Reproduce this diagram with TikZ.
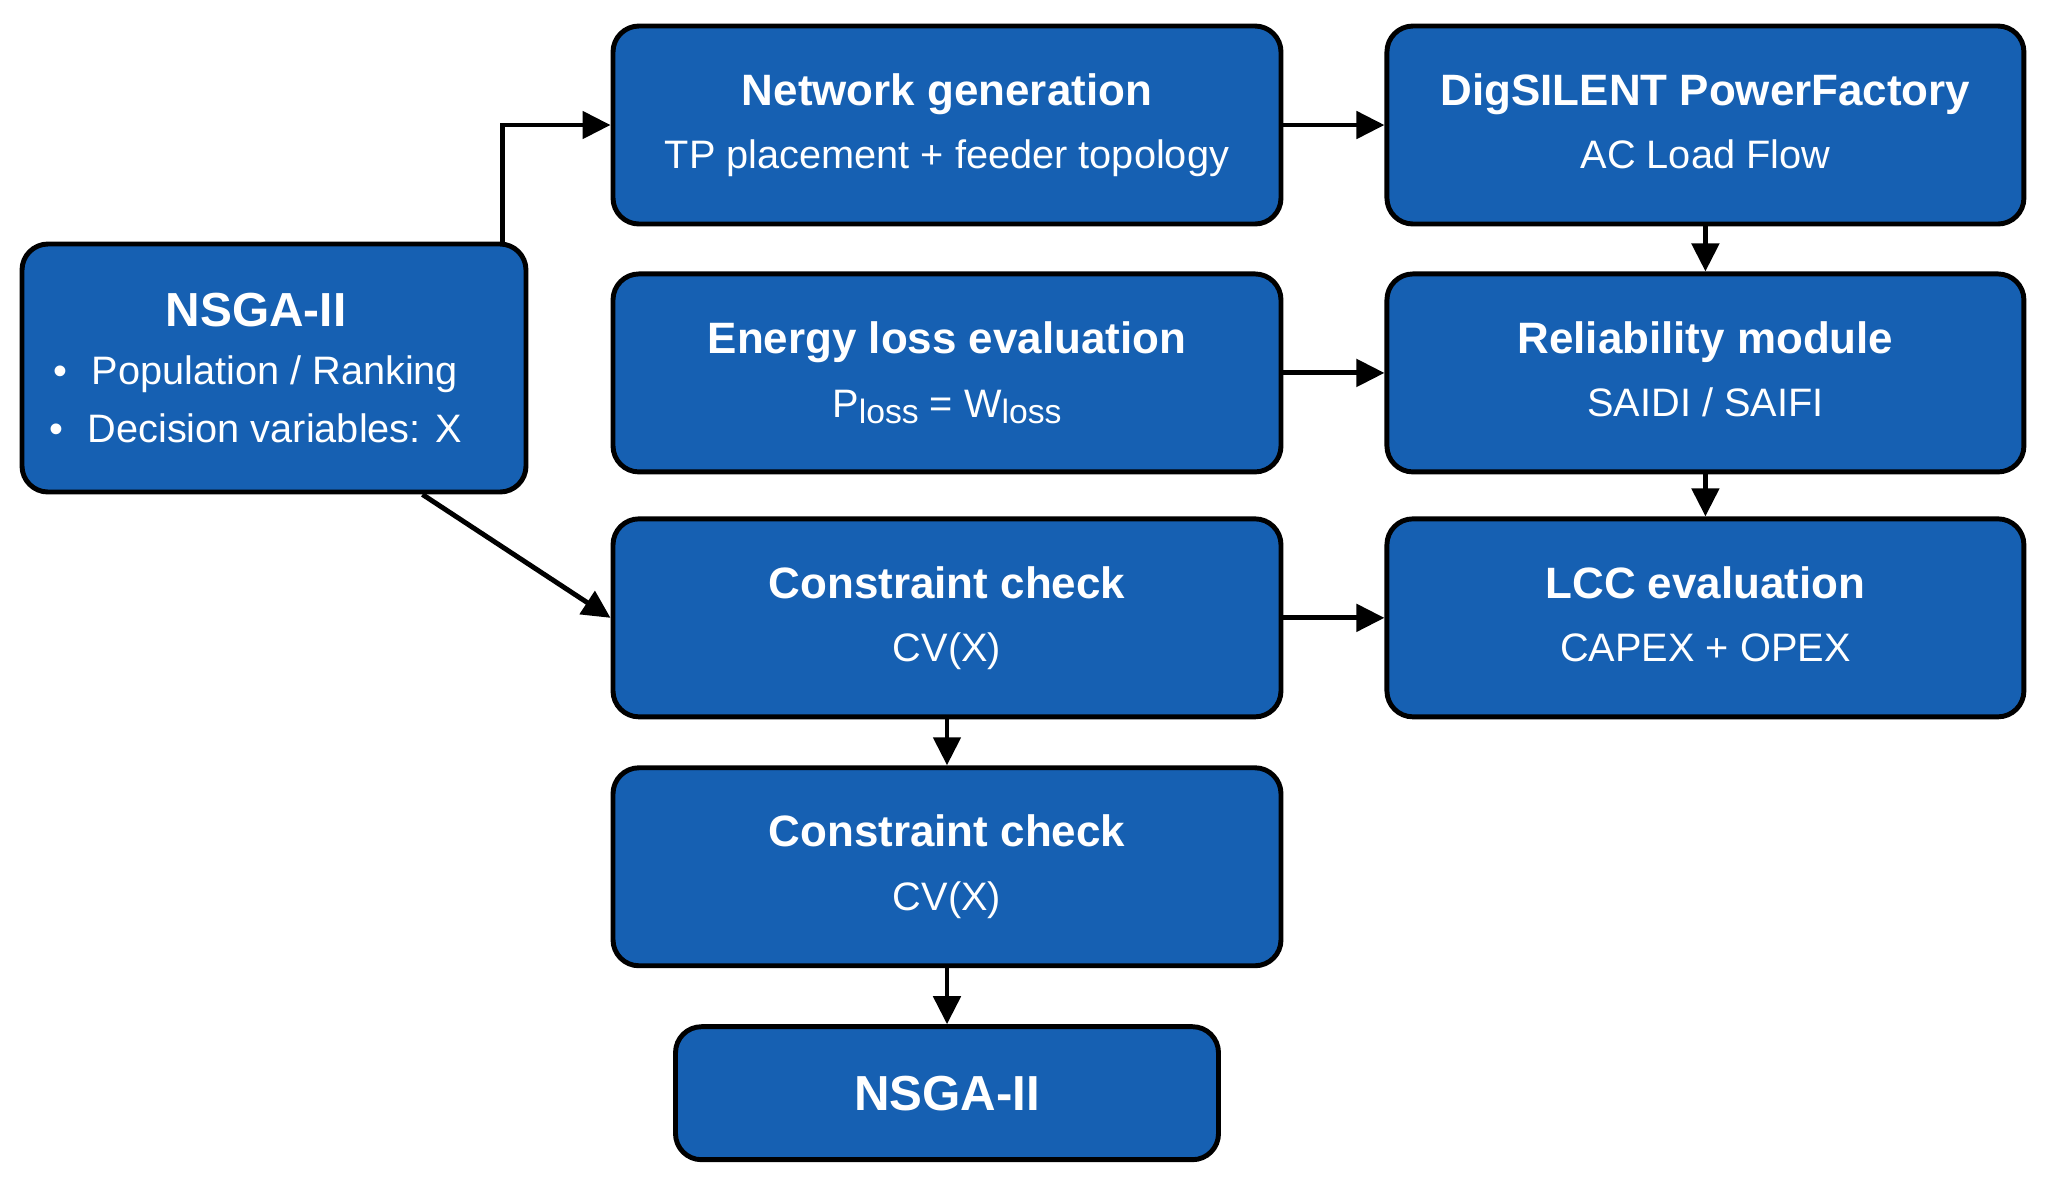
\documentclass[tikz,border=0pt]{standalone}
\usepackage{fontspec}
\setmainfont{Liberation Sans}
\usetikzlibrary{arrows.meta, positioning, calc}
\definecolor{boxblue}{RGB}{22,96,178}
\newcommand{\boxtitle}[1]{{\fontsize{12.5}{18}\selectfont\bfseries #1}}
\newcommand{\lossidx}{\raisebox{-0.3ex}{\fontsize{9.6}{10}\selectfont loss}}

\begin{document}
\begin{tikzpicture}[
    node distance=0.45cm and 1.01cm,
    block/.style={rectangle, draw=black, line width=1.4pt, fill=boxblue, text=white, rounded corners=0.26cm, minimum width=6.68cm, minimum height=1.98cm, align=center, font=\fontsize{11.3}{18}\selectfont},
    sideblock/.style={block, minimum width=6.37cm},
    plaintext/.style={text=white, align=center, font=\fontsize{11.3}{16.5}\selectfont},
    arrow/.style={-{Triangle[length=0.28cm, width=0.27cm]}, line width=1.4pt}
]

% Canvas
\fill [white] (0,0) rectangle (20.46,-11.85);
\useasboundingbox (0,0) rectangle (20.46,-11.85);

% Nodes
\node [block] (netgen) at (9.47,-1.25) {\boxtitle{Network generation}\\ TP placement + feeder topology};
\node [sideblock, right=of netgen] (digsilent) {\boxtitle{DigSILENT PowerFactory}\\ AC Load Flow\vphantom{y}};
\node [block, below=of netgen] (energy) {\boxtitle{Energy loss evaluation}\\ P\lossidx\ = W\lossidx};
\node [sideblock, below=of digsilent] (reliab) {\boxtitle{Reliability module}\\ SAIDI / SAIFI\vphantom{y}};
\node [block, below=0.42cm of energy] (check) {\boxtitle{Constraint check}\\ CV(X)};
\node [sideblock, below=0.42cm of reliab] (lcc) {\boxtitle{LCC evaluation}\\ CAPEX + OPEX\vphantom{y}};
\node [block, below=0.46cm of check] (check2) {\boxtitle{Constraint check}\\ CV(X)};
\node [block, minimum width=5.43cm, minimum height=1.33cm, below=0.56cm of check2, font=\fontsize{14}{16}\selectfont\bfseries] (nsgaout) {NSGA-II};
\node [block, minimum width=5.04cm, minimum height=2.48cm] (nsga) at (2.74,-3.68) {};
\node [plaintext] (nsgatext) at ([xshift=-0.18cm]nsga.center)
    {{\fontsize{13.6}{16.5}\selectfont\bfseries NSGA-II}\\ \textbullet\hspace{0.6em}Population / Ranking\\ \textbullet\hspace{0.6em}Decision variables: X};

% Paths
\draw [arrow] ([xshift=-0.26cm]nsga.north east) |- (netgen.west);
\draw [arrow] ([xshift=-1.06cm]nsga.south east) -- (check.west);
\draw [arrow] (netgen) -- (digsilent);
\draw [arrow] (digsilent) -- (reliab);
\draw [arrow] (energy) -- (reliab);
\draw [arrow] (reliab) -- (lcc);
\draw [arrow] (check) -- (lcc);
\draw [arrow] (check) -- (check2);
\draw [arrow] (check2) -- (nsgaout);

\end{tikzpicture}
\end{document}
